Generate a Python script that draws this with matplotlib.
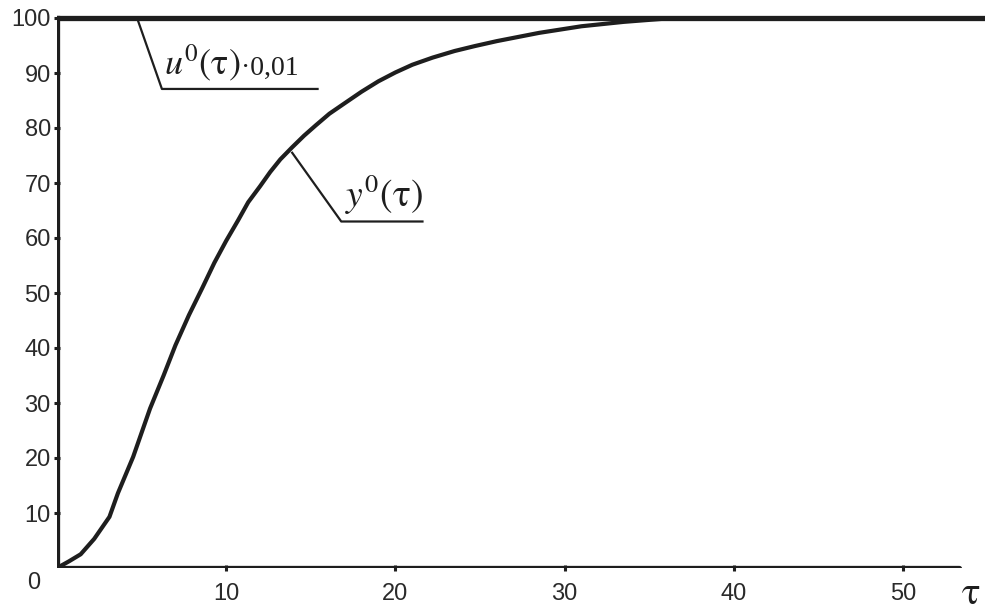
import numpy as np
import matplotlib.pyplot as plt

# --- data ---
tau = [0, 0.7, 1.4, 2.2, 3.1, 3.6, 4.5, 5.5, 6.3, 7.0, 7.8, 8.6, 9.3, 10.0,
       10.7, 11.3, 12.0, 12.6, 13.2, 13.9, 14.6, 15.3, 16.1, 17.0, 18.0, 19.0,
       20.0, 21.0, 22.2, 23.5, 24.7, 26.0, 28.5, 31.0, 33.5, 36.0]
y_resp = [0, 1.2, 2.5, 5.3, 9.3, 13.6, 20.2, 29.0, 35.0, 40.5, 46.0, 51.0,
          55.5, 59.5, 63.2, 66.5, 69.4, 72.0, 74.3, 76.5, 78.6, 80.5, 82.6,
          84.5, 86.6, 88.5, 90.1, 91.5, 92.8, 94.0, 94.9, 95.8, 97.3, 98.5,
          99.3, 99.9]
u_tau = [0, 55]
u_val = [100, 100]  # u0(tau)*0.01

x_ticks = [10, 20, 30, 40, 50]
y_ticks = [10, 20, 30, 40, 50, 60, 70, 80, 90, 100]

plt.rcParams['mathtext.fontset'] = 'stix'
INK = '#1e1e1e'
LBL = '#2a2a2a'

fig = plt.figure(figsize=(9.85, 6.12), dpi=100)
ax = fig.add_axes([57 / 985, 44 / 612, 928 / 985, 558 / 612])
ax.set_xlim(0, 928 / 16.92)
ax.set_ylim(0, 558 / 5.5)
for s in ax.spines.values():
    s.set_visible(False)

# axes drawn as thick lines
x_end = (959 - 57) / 16.92
ax.plot([0, x_end], [0, 0], color=INK, lw=3.8, solid_capstyle='round', zorder=3)
ax.plot([0, 0], [0, 100], color=INK, lw=3.8, zorder=3)

ax.plot(u_tau, u_val, color=INK, lw=3.8, zorder=3)
ax.plot(tau, y_resp, color=INK, lw=3.0, solid_capstyle='round',
        solid_joinstyle='round', zorder=3)

# ticks
ax.set_xticks(x_ticks)
ax.set_yticks(y_ticks)
ax.tick_params(axis='both', direction='inout', length=5, width=2.2, color=INK,
               labelsize=17, labelcolor=LBL)
ax.tick_params(axis='x', pad=8)
ax.tick_params(axis='y', pad=2)
for lab in ax.get_xticklabels() + ax.get_yticklabels():
    lab.set_family('Liberation Sans')
ax.text(-1.0, -2.7, '0', ha='right', va='center', fontsize=17,
        color=LBL, family='Liberation Sans', clip_on=False)
ax.text(54.0, -4.6, r'$\mathrm{\tau}$', ha='center', va='center', fontsize=28,
        color=INK, clip_on=False)

# annotation for u0
ax.plot([4.8, 6.2, 15.4], [99.4, 87.1, 87.1], color=INK, lw=1.6, zorder=2)
ax.text(6.3, 88.2, r'$u^0(\mathrm{\tau})$', fontsize=26, color=INK,
        ha='left', va='bottom')
ax.text(10.9, 88.6, '\u00b70,01', fontsize=20, color=INK,
        ha='left', va='bottom', family='Liberation Serif')

# annotation for y0
ax.plot([13.9, 16.8, 21.6], [75.5, 63.0, 63.0], color=INK, lw=1.6, zorder=2)
ax.text(17.0, 63.8, r'$y^0(\mathrm{\tau})$', fontsize=27, color=INK,
        ha='left', va='bottom')

fig.savefig('out.png', dpi=100)
